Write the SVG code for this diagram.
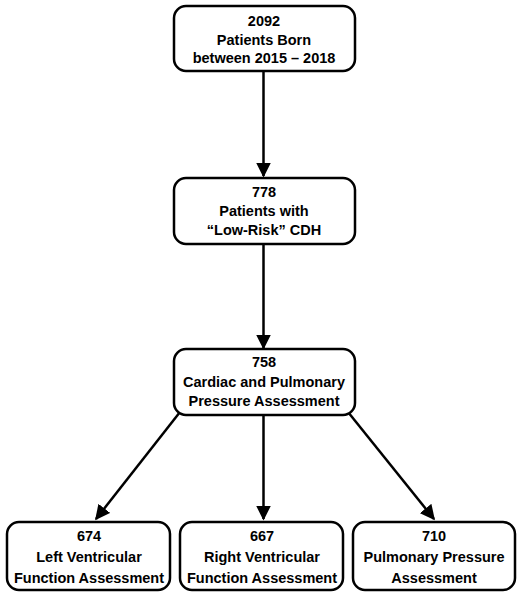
<svg xmlns="http://www.w3.org/2000/svg" width="522" height="600" viewBox="0 0 522 600">
<defs>
<style>
.box{fill:#fff;stroke:#000;stroke-width:2.5}
.t{font-family:"Liberation Sans",Arial,sans-serif;font-size:14.5px;font-weight:bold;text-anchor:middle;fill:#000}
.c{stroke:#000;stroke-width:2.5;fill:none}
</style>
<marker id="a" viewBox="0 0 10 10" refX="9" refY="5" markerWidth="6" markerHeight="6" orient="auto">
<path d="M0,0 L10,5 L0,10 z" fill="#000"/>
</marker>
</defs>
<rect width="522" height="600" fill="#fff"/>
<g id="connectors">
<line class="c" x1="263.5" y1="72" x2="263.5" y2="176" marker-end="url(#a)"/>
<line class="c" x1="263.5" y1="245" x2="263.5" y2="348" marker-end="url(#a)"/>
<line class="c" x1="263.5" y1="416" x2="263.5" y2="519" marker-end="url(#a)"/>
<line class="c" x1="180" y1="412" x2="96" y2="519" marker-end="url(#a)"/>
<line class="c" x1="348" y1="412" x2="434" y2="519" marker-end="url(#a)"/>
</g>
<g id="n1">
<rect class="box" x="174" y="6" width="181" height="65" rx="12"/>
<text class="t" x="264" y="26">2092</text>
<text class="t" x="264" y="44.5">Patients Born</text>
<text class="t" x="264" y="63">between 2015 – 2018</text>
</g>
<g id="n2">
<rect class="box" x="174" y="178" width="181" height="66" rx="12"/>
<text class="t" x="264" y="197">778</text>
<text class="t" x="264" y="216">Patients with</text>
<text class="t" x="264" y="235">“Low-Risk” CDH</text>
</g>
<g id="n3">
<rect class="box" x="174" y="349" width="181" height="66" rx="12"/>
<text class="t" x="264" y="367">758</text>
<text class="t" x="264" y="386.5">Cardiac and Pulmonary</text>
<text class="t" x="264" y="406">Pressure Assessment</text>
</g>
<g id="n4">
<rect class="box" x="7" y="522" width="163" height="68" rx="12"/>
<text class="t" x="89" y="541">674</text>
<text class="t" x="89" y="562">Left Ventricular</text>
<text class="t" x="89" y="583">Function Assessment</text>
</g>
<g id="n5">
<rect class="box" x="180" y="522" width="163" height="68" rx="12"/>
<text class="t" x="262" y="541">667</text>
<text class="t" x="262" y="562">Right Ventricular</text>
<text class="t" x="262" y="583">Function Assessment</text>
</g>
<g id="n6">
<rect class="box" x="353" y="522" width="162" height="68" rx="12"/>
<text class="t" x="434" y="541">710</text>
<text class="t" x="434" y="562">Pulmonary Pressure</text>
<text class="t" x="434" y="583">Assessment</text>
</g>
</svg>
